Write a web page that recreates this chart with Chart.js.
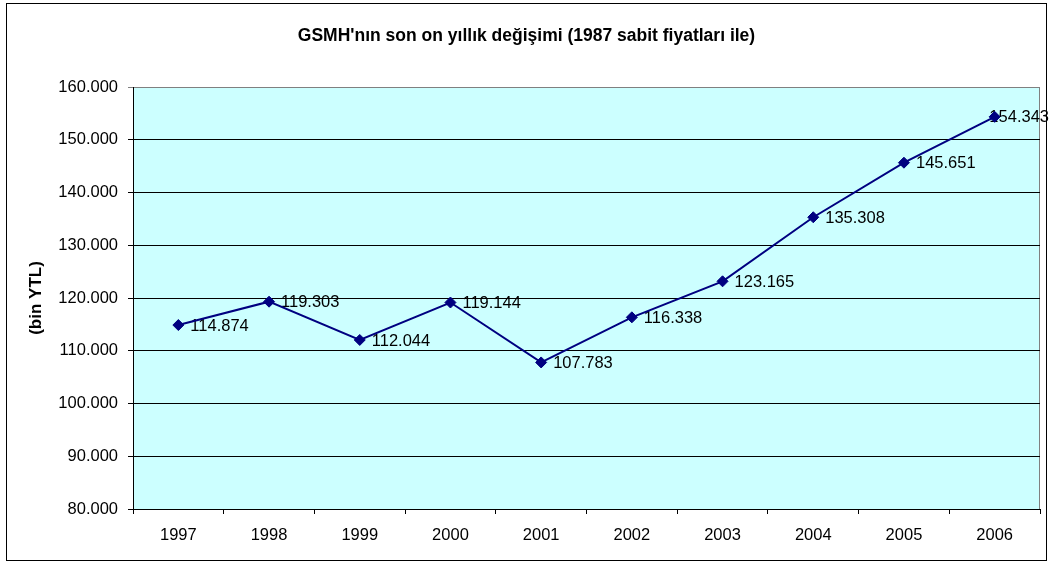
<!DOCTYPE html>
<html>
<head>
<meta charset="utf-8">
<script src="https://cdn.jsdelivr.net/npm/chart.js@4.4.1/dist/chart.umd.min.js"></script>
<style>
  html, body { margin: 0; padding: 0; background: #fff; }
  #chart { display: block; }
</style>
</head>
<body>
<canvas id="chart" width="1053" height="563"></canvas>
<script>
const years = ["1997", "1998", "1999", "2000", "2001", "2002", "2003", "2004", "2005", "2006"];
const gsmh = [114874, 119303, 112044, 119144, 107783, 116338, 123165, 135308, 145651, 154343];
const yMin = 80000;
const yMax = 160000;
const yStep = 10000;

const chartTitle = "GSMH'nın son on yıllık değişimi (1987 sabit fiyatları ile)";
const yTitle = "(bin YTL)";

const FONT = "Arial, 'Liberation Sans', sans-serif";

function dotted(value) {
  return String(value).replace(/\B(?=(\d{3})+(?!\d))/g, ".");
}

// white page, outer frame, cyan plot area with gray top/right edges
const frame = {
  id: "frame",
  beforeDraw(chart) {
    const { ctx, chartArea: a } = chart;
    ctx.save();
    ctx.fillStyle = "#fff";
    ctx.fillRect(0, 0, chart.width, chart.height);
    ctx.strokeStyle = "#000";
    ctx.lineWidth = 1;
    ctx.strokeRect(6.5, 3.5, chart.width - 13, chart.height - 6);
    ctx.fillStyle = "#ccffff";
    ctx.fillRect(a.left, a.top, a.right - a.left, a.bottom - a.top);
    ctx.strokeStyle = "#808080";
    ctx.beginPath();
    ctx.moveTo(a.left, a.top + 0.5);
    ctx.lineTo(a.right - 0.5, a.top + 0.5);
    ctx.lineTo(a.right - 0.5, a.bottom);
    ctx.stroke();
    ctx.restore();
  },
};

// value labels to the right of each point, under the line
const valueLabels = {
  id: "valueLabels",
  beforeDatasetsDraw(chart) {
    const { ctx } = chart;
    const meta = chart.getDatasetMeta(0);
    ctx.save();
    ctx.font = "16.5px " + FONT;
    ctx.fillStyle = "#000";
    ctx.textAlign = "left";
    ctx.textBaseline = "middle";
    meta.data.forEach((pt, i) => {
      const text = dotted(gsmh[i]);
      const w = ctx.measureText(text).width;
      const x = Math.min(pt.x + 12, chart.width - 4 - w);
      ctx.fillText(text, x, pt.y + 1);
    });
    ctx.restore();
  },
};

new Chart(document.getElementById("chart"), {
  type: "line",
  data: {
    labels: years,
    datasets: [
      {
        data: gsmh,
        borderColor: "#000080",
        backgroundColor: "#000080",
        borderWidth: 2,
        tension: 0,
        pointStyle: "rectRot",
        pointRadius: 5.5,
        pointBorderWidth: 1,
        pointBorderColor: "#000080",
        pointBackgroundColor: "#000080",
      },
    ],
  },
  options: {
    responsive: false,
    animation: false,
    layout: { padding: { left: 13, right: 13, top: 0, bottom: 0 } },
    plugins: {
      legend: { display: false },
      tooltip: { enabled: false },
      title: {
        display: true,
        text: chartTitle,
        color: "#000",
        font: { family: FONT, size: 17.5, weight: "bold" },
        padding: { top: 25.5, bottom: 40.5 },
      },
    },
    scales: {
      x: {
        offset: true,
        grid: { offset: true, drawOnChartArea: false, tickLength: 5, color: "#000" },
        border: { color: "#000", width: 1 },
        ticks: { color: "#000", font: { family: FONT, size: 16.5 }, padding: 12, maxRotation: 0 },
        afterFit(scale) { scale.height = 54; },
      },
      y: {
        min: yMin,
        max: yMax,
        ticks: {
          stepSize: yStep,
          color: "#000",
          font: { family: FONT, size: 16.5 },
          padding: 10,
          callback: (v) => dotted(v),
        },
        grid: {
          tickLength: 5,
          color: (c) => (c.tick && c.tick.value === yMax ? "#808080" : "#000"),
        },
        border: { color: "#000", width: 1 },
        title: {
          display: true,
          text: yTitle,
          color: "#000",
          font: { family: FONT, size: 17, weight: "bold" },
          padding: { top: 13, bottom: 0 },
        },
        afterFit(scale) { scale.width = 120; },
      },
    },
  },
  plugins: [frame, valueLabels],
});
</script>
</body>
</html>
